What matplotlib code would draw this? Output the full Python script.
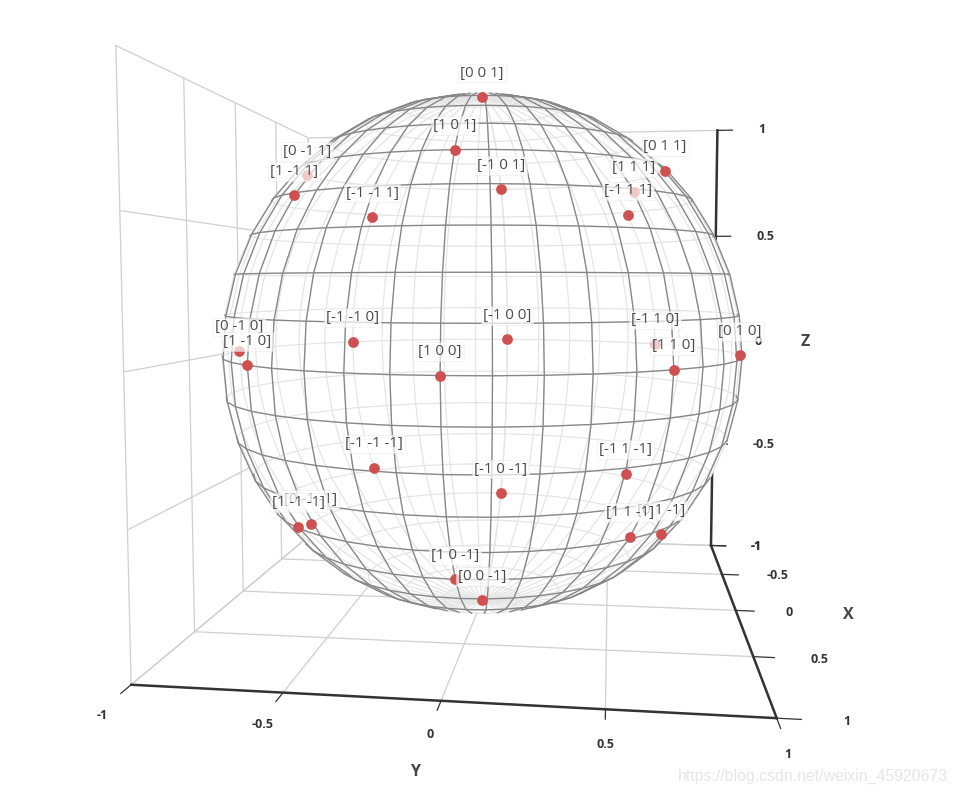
import numpy as np
import matplotlib
matplotlib.use('Agg')
import matplotlib.pyplot as plt
from mpl_toolkits.mplot3d import proj3d

plt.rcParams['font.family'] = ['Open Sans', 'DejaVu Sans']

# Direction labels, in drawing order
labels = ['[0 0 1]', '[0 0 -1]', '[0 1 0]', '[0 -1 0]', '[0 1 1]', '[0 -1 1]', '[0 1 -1]', '[0 -1 -1]',
          '[-1 0 0]', '[-1 1 0]', '[-1 -1 0]', '[-1 0 1]', '[-1 0 -1]', '[-1 1 1]', '[-1 -1 1]',
          '[-1 1 -1]', '[-1 -1 -1]',
          '[1 0 0]', '[1 1 0]', '[1 -1 0]', '[1 0 1]', '[1 0 -1]', '[1 1 1]', '[1 -1 1]', '[1 1 -1]', '[1 -1 -1]']
directions = np.array([[0, 0, 1], [0, 0, -1], [0, 1, 0], [0, -1, 0], [0, 1, 1], [0, -1, 1], [0, 1, -1], [0, -1, -1],
                       [-1, 0, 0], [-1, 1, 0], [-1, -1, 0], [-1, 0, 1], [-1, 0, -1], [-1, 1, 1], [-1, -1, 1],
                       [-1, 1, -1], [-1, -1, -1],
                       [1, 0, 0], [1, 1, 0], [1, -1, 0], [1, 0, 1], [1, 0, -1], [1, 1, 1], [1, -1, 1], [1, 1, -1], [1, -1, -1]], dtype=float)
ticks = [-1, -0.5, 0, 0.5, 1]
tick_text = ['-1', '-0.5', '0', '0.5', '1']

# Camera
elev, azim = 3.9, 7.2
cam_dist = 4.05
grid_c = '#cfcfcf'
axis_c = '#333333'

fig = plt.figure(figsize=(9.58, 7.94), dpi=100)
ax = fig.add_subplot(projection='3d', computed_zorder=False)
ax.set_position([46.5 / 958, 5.5 / 794, 848 / 958, 848 / 794])
ax.set_xlim(-1, 1, view_margin=0)
ax.set_ylim(-1, 1, view_margin=0)
ax.set_zlim(-1, 1, view_margin=0)
ax.set_box_aspect((1, 1, 1))
ax.view_init(elev=elev, azim=azim, roll=0)
ax.set_proj_type('persp', focal_length=cam_dist * 0.55015 / 10)
ax.set_axis_off()


def to_view(x, y, z):
    px, py, _ = proj3d.proj_transform(x, y, z, ax.get_proj())
    return px, py


# Box grid: floor and the two back walls
for t in ticks:
    ax.plot([t, t], [-1, 1], [-1, -1], color=grid_c, lw=0.9, zorder=1)
    ax.plot([-1, 1], [t, t], [-1, -1], color=grid_c, lw=0.9, zorder=1)
    ax.plot([t, t], [-1, -1], [-1, 1], color=grid_c, lw=0.9, zorder=1)
    ax.plot([-1, 1], [-1, -1], [t, t], color=grid_c, lw=0.9, zorder=1)
    ax.plot([-1, -1], [t, t], [-1, 1], color=grid_c, lw=0.9, zorder=1)
    ax.plot([-1, -1], [-1, 1], [t, t], color=grid_c, lw=0.9, zorder=1)

# Axis lines, ticks and tick labels
ax.plot([-1, -1], [1, 1], [-1, 1], color=axis_c, lw=1.8, zorder=1.5)
ax.plot([1, 1], [-1, 1], [-1, -1], color=axis_c, lw=1.8, zorder=5)
ax.plot([-1, 1], [1, 1], [-1, -1], color=axis_c, lw=1.8, zorder=5)
tick_style = dict(fontsize=9, fontweight='bold', color=axis_c, va='center', annotation_clip=False)
for t, s in zip(ticks, tick_text):
    ax.plot([1, 1.07], [t, t], [-1, -1], color=axis_c, lw=0.9, zorder=5)
    ax.plot([t, t], [1, 1.07], [-1, -1], color=axis_c, lw=0.9, zorder=5)
    ax.plot([-1, -1], [1, 1.07], [t, t], color=axis_c, lw=0.9, zorder=1.5)
    ax.annotate(s, to_view(1.19, t, -1.02), ha='center', zorder=5, **tick_style)
    ax.annotate(s, to_view(t, 1.19, -1), ha='left', zorder=5, **tick_style)
    ax.annotate(s, to_view(-1, 1.19, t), ha='left', zorder=1.5, **tick_style)

# Sphere mesh
lat = np.radians(np.linspace(-90, 90, 21))
lon = np.radians(np.linspace(-180, 180, 41))
lo, la = np.meshgrid(lon, lat)
sx = np.cos(la) * np.cos(lo)
sy = np.cos(la) * np.sin(lo)
sz = np.sin(la)
ax.plot_surface(sx, sy, sz, rstride=1, cstride=1, color='white', edgecolor='white', linewidth=0.5, shade=False, zorder=2)

e, a = np.radians(elev), np.radians(azim)
eye = cam_dist * np.array([np.cos(e) * np.cos(a), np.cos(e) * np.sin(a), np.sin(e)])
facing = sx * eye[0] + sy * eye[1] + sz * eye[2] > 1


def draw_line(x, y, z, vis):
    ax.plot(x, y, z, color='#e4e4e4', lw=0.85, zorder=3)
    keep = vis.copy()
    keep[1:] |= vis[:-1]
    keep[:-1] |= vis[1:]
    ax.plot(np.where(keep, x, np.nan), np.where(keep, y, np.nan), np.where(keep, z, np.nan),
            color='#868686', lw=0.95, zorder=4)


for i in range(len(lat)):
    draw_line(sx[i], sy[i], sz[i], facing[i])
for j in range(len(lon)):
    draw_line(sx[:, j], sy[:, j], sz[:, j], facing[:, j])

# Points on the unit sphere
pts = directions / np.linalg.norm(directions, axis=1, keepdims=True)
ax.scatter(pts[:, 0], pts[:, 1], pts[:, 2], s=60, c='#cf5050', depthshade=False, linewidths=0, zorder=6)

# Labels sit above the points, their boxes cover what is under them
for i, (p, s) in enumerate(zip(pts, labels)):
    ax.annotate(s, to_view(p[0], p[1], p[2]), xytext=(0, 24), textcoords='offset pixels', ha='center', va='center',
                fontsize=10.8, color='#4a4a4a', zorder=10 + i, annotation_clip=False,
                bbox=dict(boxstyle='square,pad=0.12', fc=(1, 1, 1, 0.7), ec=(0.9, 0.9, 0.9, 0.5), lw=0.6))

# Axis titles
title_style = dict(fontsize=11.5, fontweight='bold', color='#444444', ha='center', va='center')
fig.text(805 / 958, 1 - 342 / 794, 'Z', **title_style)
fig.text(848 / 958, 1 - 615 / 794, 'X', **title_style)
fig.text(415 / 958, 1 - 772 / 794, 'Y', **title_style)

fig.text(948 / 958, 1 - 776 / 794, 'https://blog.csdn.net/weixin_45920673', family='Liberation Sans',
         fontsize=11.4, color='#e6e6e6', ha='right', va='center')

fig.savefig('out.png', dpi=100)
